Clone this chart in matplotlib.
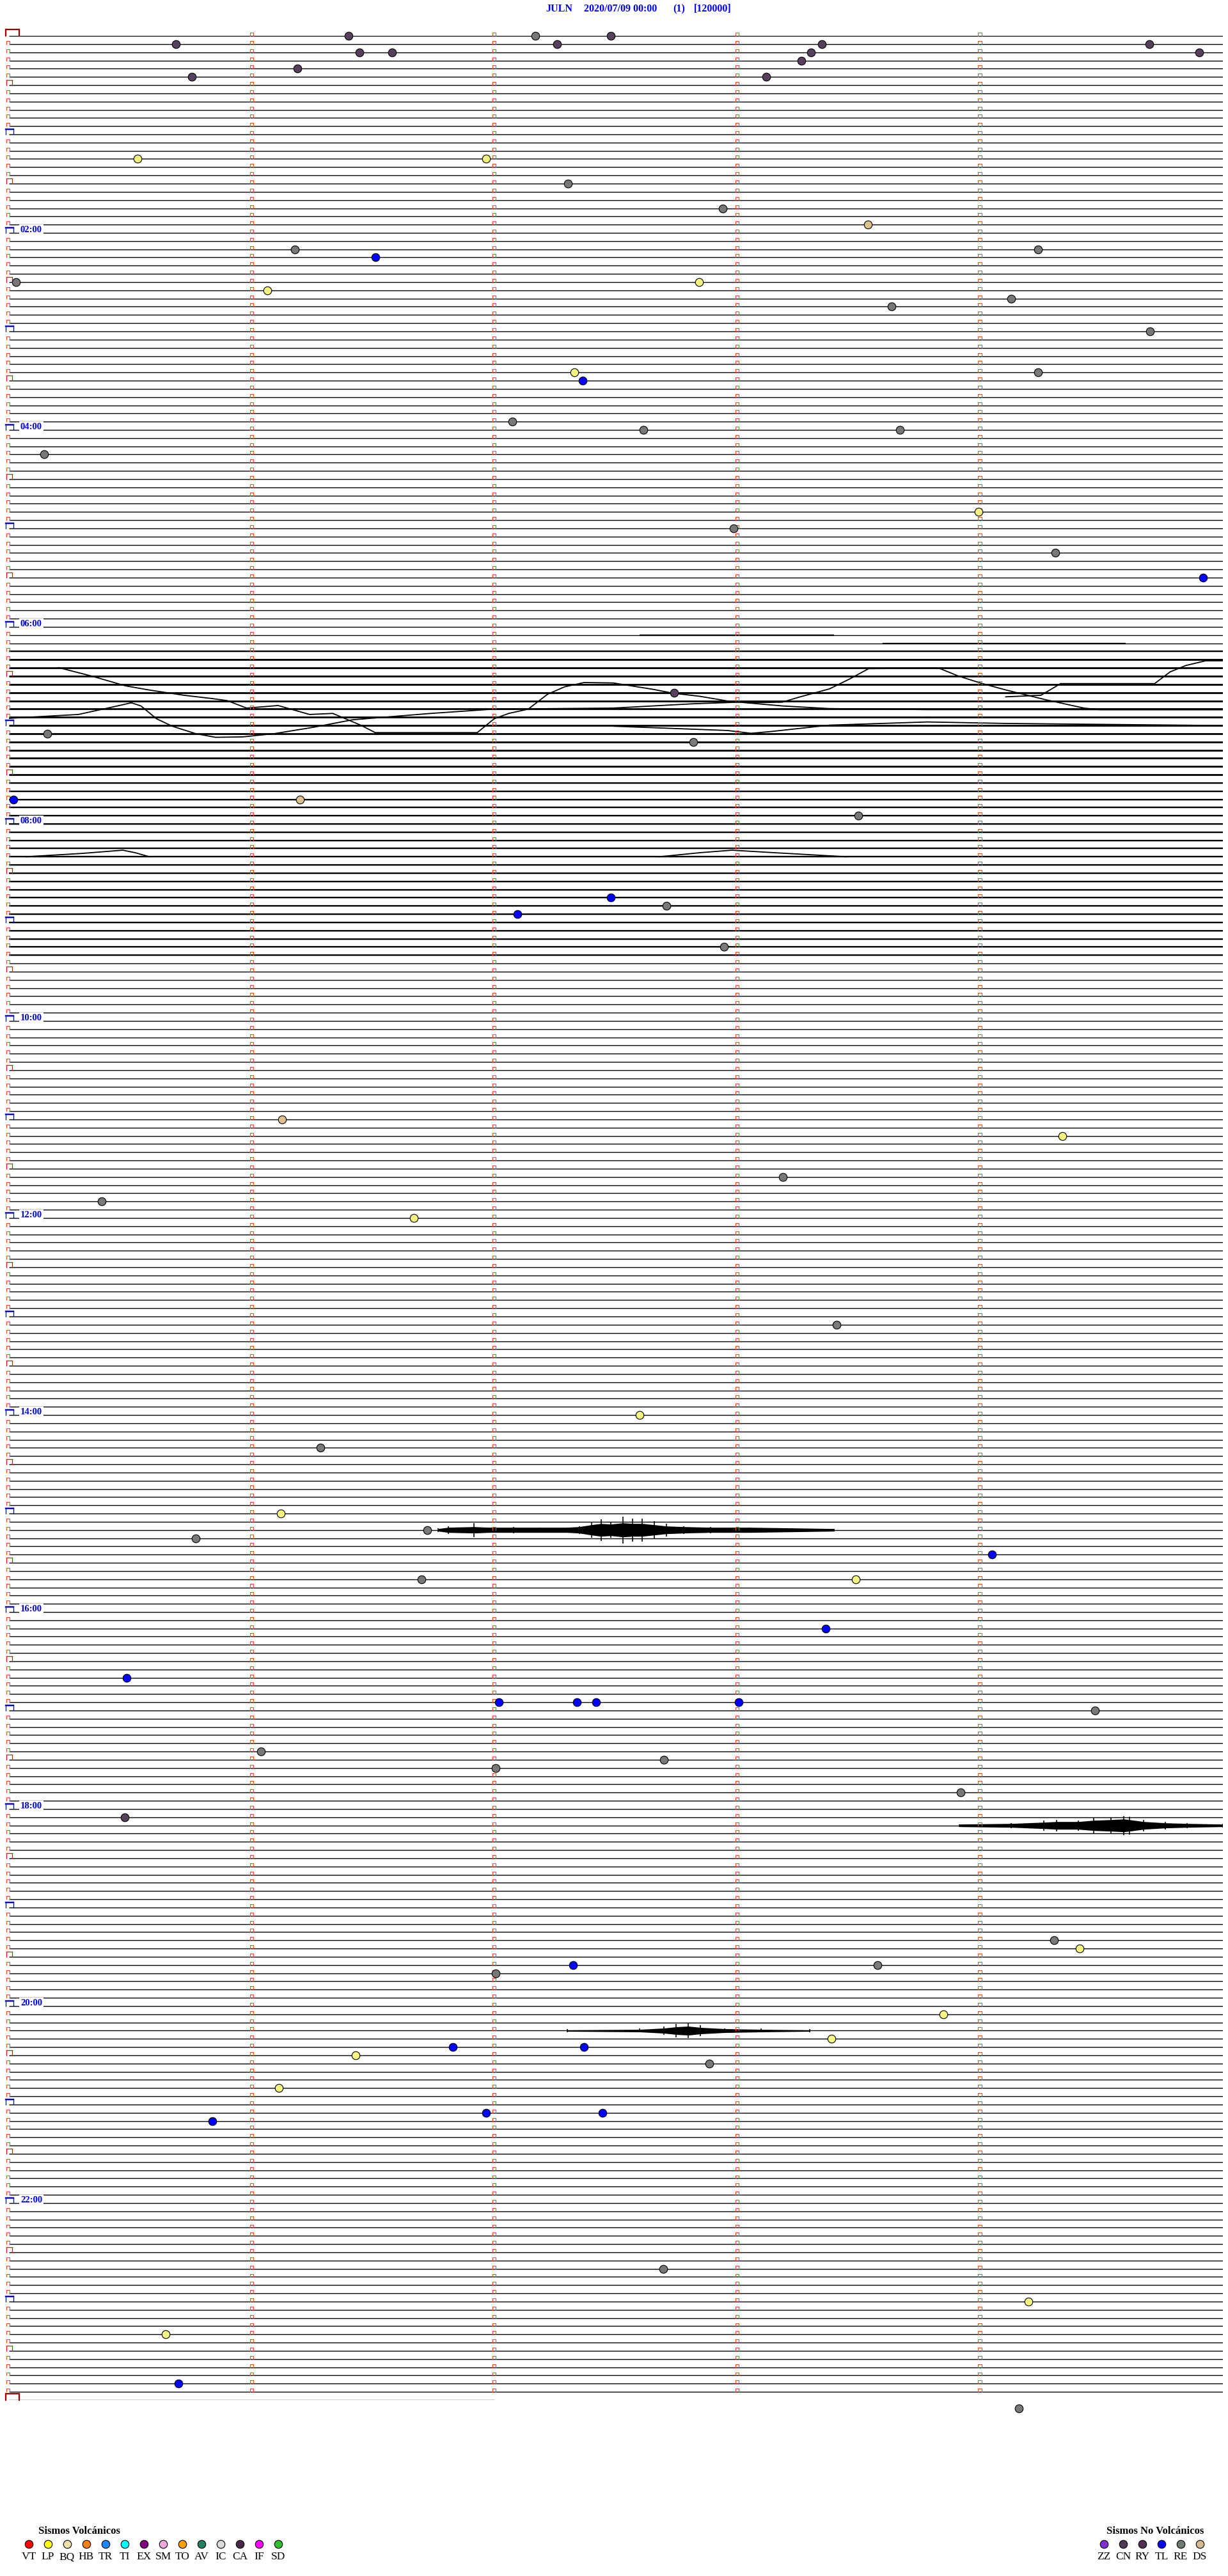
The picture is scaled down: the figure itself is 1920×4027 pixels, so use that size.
import matplotlib
matplotlib.use("Agg")
import matplotlib.pyplot as plt
from matplotlib.collections import LineCollection

# ---------------- data ----------------
N_ROWS = 288            # 5-minute rows for 24 h
ROW_MINUTES = 5
minute_ticks = [1, 2, 3, 4]
last_row_end = 2.0      # partial final row (minutes)
hour_label_rows = [24, 48, 72, 96, 120, 144, 168, 192, 216, 240, 264]
hour_labels = ["02:00", "04:00", "06:00", "08:00", "10:00", "12:00",
               "14:00", "16:00", "18:00", "20:00", "22:00"]

title_parts = ["JULN", "2020/07/09 00:00", "(1)", "[120000]"]

# events: row (5-min row index), minute within row, type
event_row = [1, 0, 2, 2, 4, 5, 0, 1, 0, 1, 2, 3, 5, 1, 2,
             15, 15, 18, 21, 23, 26, 27, 26, 30, 31, 30, 32, 33, 36, 41, 41, 42,
             47, 48, 48, 51, 60, 58, 63, 66, 80, 85, 86, 93, 93, 95,
             105, 107, 106, 111, 132, 134, 139, 142, 144, 157, 168, 172,
             180, 183, 182, 185, 188, 188, 194, 200, 203, 203, 203, 203, 204,
             209, 210, 211, 214, 217, 232, 233, 235, 235, 236, 241, 244, 245, 245,
             246, 247, 250, 253, 253, 254, 272, 276, 280, 286, 289]
event_min = [0.688, 1.40, 1.445, 1.58, 1.19, 0.755, 2.17, 2.26, 2.48, 3.35, 3.305, 3.265, 3.12, 4.698, 4.904,
             0.532, 1.966, 2.304, 2.94, 3.54, 1.18, 1.51, 4.24, 0.03, 1.066, 2.845, 4.13, 3.636, 4.70, 4.24, 2.33, 2.365,
             2.074, 2.615, 3.67, 0.146, 2.987, 3.995, 4.31, 4.92, 2.74, 0.16, 2.82, 0.02, 1.20, 3.50,
             2.48, 2.095, 2.71, 2.947, 1.127, 4.34, 3.19, 0.384, 1.669, 3.41, 2.60, 1.283,
             1.121, 0.77, 1.724, 4.05, 3.49, 1.70, 3.366, 0.485, 2.02, 2.34, 2.42, 3.007, 4.475,
             1.04, 2.70, 2.006, 3.92, 0.478, 4.305, 4.41, 3.58, 2.325, 2.006, 3.85, 3.39, 1.83, 2.37,
             1.43, 2.886, 1.113, 1.966, 2.446, 0.84, 2.696, 4.20, 0.647, 0.70, 4.16]
event_type = ["CN", "CN", "CN", "CN", "CN", "CN", "RE", "CN", "CN", "CN", "CN", "CN", "CN", "CN", "CN",
              "LP", "LP", "RE", "RE", "DS", "RE", "TL", "RE", "RE", "LP", "LP", "RE", "RE", "RE", "RE", "LP", "TL",
              "RE", "RE", "RE", "RE", "RE", "LP", "RE", "TL", "CN", "RE", "RE", "TL", "DS", "RE",
              "TL", "TL", "RE", "RE", "DS", "LP", "RE", "RE", "LP", "RE", "LP", "RE",
              "LP", "RE", "RE", "TL", "LP", "RE", "TL", "TL", "TL", "TL", "TL", "TL", "RE",
              "RE", "RE", "RE", "RE", "CN", "RE", "LP", "RE", "TL", "RE", "LP", "LP", "TL", "TL",
              "LP", "RE", "LP", "TL", "TL", "TL", "RE", "LP", "LP", "TL", "RE"]

volc_codes = ["VT", "LP", "BQ", "HB", "TR", "TI", "EX", "SM", "TO", "AV", "IC", "CA", "IF", "SD"]
volc_colors = ["#ff0000", "#ffff00", "#f2e2a8", "#ff8010", "#2088ff", "#00ffff", "#800080",
               "#f0a8e0", "#ffa000", "#208060", "#dcdcdc", "#4a2a4a", "#ff00ff", "#30c030"]
nonvolc_codes = ["ZZ", "CN", "RY", "TL", "RE", "DS"]
nonvolc_colors = ["#8030d0", "#503858", "#503050", "#0000ff", "#707a70", "#d4b890"]
plot_colors = {"CN": "#56405e", "RE": "#787878", "TL": "#0000ff", "LP": "#f4f480", "DS": "#dcc090"}

# long-period drift traces (minute, row)
drift_a_min = [0.206, 0.343, 0.48, 0.577, 0.722, 0.835, 0.90, 0.98, 1.11, 1.24, 1.335, 1.45, 1.51, 1.93,
               2.00, 2.06, 2.14, 2.22, 2.29, 2.37, 2.49, 2.655, 2.735, 2.848, 2.977, 3.058, 3.187, 3.252,
               3.381, 3.461, 3.542, 3.832, 3.913, 4.010, 4.107, 4.268, 4.429, 4.494, 5.0]
drift_a_row = [76.96, 78.0, 79.17, 79.68, 80.33, 80.72, 80.98, 81.89, 81.58, 82.67, 82.54, 83.97, 84.88, 84.88,
               83.19, 82.54, 82.02, 80.20, 79.30, 78.78, 78.83, 79.61, 80.07, 80.46, 81.11, 81.24, 81.17, 80.59,
               79.55, 78.39, 77.09, 77.03, 78.0, 78.9, 79.68, 80.85, 81.89, 82.08, 82.08]
drift_c_min = [0.0, 0.287, 0.448, 0.505, 0.545, 0.609, 0.674, 0.771, 0.852, 0.964, 1.093, 1.255, 1.416,
               1.577, 1.739, 1.997, 2.49, 2.816, 3.01, 3.187, 3.381, 3.784, 5.0]
drift_c_row = [83.14, 82.67, 81.63, 81.24, 81.63, 83.19, 84.10, 85.01, 85.45, 85.40, 85.01, 84.23, 83.32,
               82.93, 82.54, 82.02, 81.89, 81.37, 81.17, 81.63, 81.95, 82.08, 82.08]
drift_f_min = [4.107, 4.252, 4.333, 4.72, 4.784, 4.849, 4.93, 5.0]
drift_f_row = [80.52, 80.33, 78.91, 78.91, 77.48, 76.70, 76.13, 76.13]
drift_g_min = [2.493, 2.961, 3.058, 3.139, 3.381, 3.784, 4.107, 5.0]
drift_g_row = [84.1, 84.62, 84.96, 84.75, 83.97, 83.58, 83.76, 84.02]
# small humps around 08:20
hump1_min = [0.07, 0.30, 0.47, 0.52, 0.58]
hump1_row = [100.0, 99.6, 99.2, 99.5, 100.0]
hump2_min = [2.68, 2.85, 2.98, 3.15, 3.45]
hump2_row = [100.0, 99.5, 99.2, 99.5, 100.0]
rows_absent = [81]
row82_start = 2.0

# bursts: row, minute positions, body half-width and spike half-amplitude (px)
burst1_row = 182
burst1_min = [1.77, 1.81, 1.917, 1.975, 2.08, 2.19, 2.30, 2.35, 2.40, 2.44, 2.48, 2.53, 2.57, 2.61,
              2.66, 2.71, 2.78, 2.89, 3.05, 3.23, 3.40]
burst1_body = [2, 4, 5, 4, 4, 4, 4, 5, 8, 10, 9, 11, 10, 10, 8, 6, 5, 4, 4, 3, 2]
burst1_amp = [3, 6, 11, 4, 5, 4, 4, 6, 12, 17, 12, 21, 18, 18, 14, 10, 6, 5, 4, 3, 2]
burst2_row = 218
burst2_min = [3.916, 4.13, 4.264, 4.317, 4.406, 4.469, 4.54, 4.593, 4.617, 4.674, 4.764, 4.854, 5.0]
burst2_body = [2, 3, 5, 6, 6, 8, 9, 10, 9, 6, 4, 3, 2]
burst2_amp = [2, 4, 8, 9, 8, 12, 13, 15, 14, 9, 6, 4, 3]
burst3_row = 243
burst3_min = [2.3, 2.6, 2.7, 2.75, 2.8, 2.85, 2.95, 3.1, 3.3]
burst3_body = [1, 2, 4, 6, 7, 5, 3, 2, 1]
burst3_amp = [2, 3, 7, 10, 12, 8, 4, 3, 2]

# noisy (thickened) stretches: row, start minute, end minute, level
noise_row = [73, 74, 75] + list(range(76, 91)) + list(range(91, 113))
noise_m0 = [2.6, 3.6, 0.0] + [0.0] * 15 + [0.0] * 22
noise_m1 = [3.4, 4.6, 5.0] + [5.0] * 15 + [5.0] * 22
noise_lvl = [1, 1, 1] + [2] * 15 + [1] * 22

# ---------------- layout ----------------
W, H = 1920, 4027
X0, X1 = 13.5, 1911.5     # pixel span of a row
Y0, Y1 = 56.0, 3752.0     # pixel of row 0 and row 288
fig = plt.figure(figsize=(W / 100, H / 100), dpi=100)
fig.patch.set_facecolor("white")
ax = fig.add_axes([X0 / W, 1 - Y1 / H, (X1 - X0) / W, (Y1 - Y0) / H])
ax.set_xlim(0, ROW_MINUTES)
ax.set_ylim(N_ROWS, 0)
ax.axis("off")
ppm = (X1 - X0) / ROW_MINUTES
ppr = (Y1 - Y0) / N_ROWS
PT = 0.72  # points per pixel

# baselines
segs = []
for r in range(N_ROWS):
    if r in rows_absent:
        continue
    start = row82_start if r == 82 else 0
    segs.append([(start, r), (ROW_MINUTES, r)])
segs.append([(0, N_ROWS), (last_row_end, N_ROWS)])
ax.add_collection(LineCollection(segs, colors="black", linewidths=1.4 * PT, zorder=2))

# noise thickening
lvl_px = {1: 2.2, 2: 2.8, 3: 4.5}
for r, a, b, lv in zip(noise_row, noise_m0, noise_m1, noise_lvl):
    ax.plot([a, b], [r, r], color="black", lw=lvl_px[lv] * PT, solid_capstyle="butt", zorder=2)

# drift traces
for xs, ys in [(drift_a_min, drift_a_row), (drift_c_min, drift_c_row),
               (drift_f_min, drift_f_row), (drift_g_min, drift_g_row),
               (hump1_min, hump1_row), (hump2_min, hump2_row)]:
    ax.plot(xs, ys, color="black", lw=1.8 * PT, zorder=2)

# bursts: envelope body + spikes at read points
for br, bm, bb, ba in [(burst1_row, burst1_min, burst1_body, burst1_amp),
                       (burst2_row, burst2_min, burst2_body, burst2_amp),
                       (burst3_row, burst3_min, burst3_body, burst3_amp)]:
    ax.fill_between(bm, [br - b / ppr for b in bb], [br + b / ppr for b in bb],
                    color="black", lw=0, zorder=2)
    ax.vlines(bm, [br - a / ppr for a in ba], [br + a / ppr for a in ba],
              colors="black", lw=1.6 * PT, zorder=2)


def cap_box(m, r, left, right, h, color, lw, top_lw=None):
    xl, xr = m + left / ppm, m + right / ppm
    yt = r - h / ppr
    ax.plot([xl, xl], [r, yt], color=color, lw=lw * PT, zorder=4, clip_on=False,
            solid_capstyle="projecting")
    ax.plot([xr, xr], [r, yt], color=color, lw=lw * PT, zorder=4, clip_on=False,
            solid_capstyle="projecting")
    ax.plot([xl, xr], [yt, yt], color=color, lw=(top_lw or lw) * PT, zorder=4, clip_on=False,
            solid_capstyle="projecting")


ORANGE = "#ff4a10"
for r in range(N_ROWS + 1):
    if r % 12 == 0:
        if r == 0 or r == N_ROWS:
            cap_box(0, r, -4.5, 16.5, 10, "#990000", 2.2)
        else:
            cap_box(0, r, -4.5, 7.5, 8, "#0000e0", 1.3, 2.4)
    elif r % 6 == 0:
        cap_box(0, r, -3.5, 5.5, 8, "#ff0000", 1.2)
    else:
        cap_box(0, r, -3.2, 1.8, 5, ORANGE, 1.0)
    if r < N_ROWS:
        for mt in minute_ticks:
            cap_box(mt, r, -2.6, 2.6, 5, ORANGE, 1.0)

for r, lab in zip(hour_label_rows, hour_labels):
    ax.text(18.5 / ppm, r - 0.6 / ppr, lab, color="#0000ff", fontsize=10.5, fontweight="bold",
            family="Liberation Serif", ha="left", va="baseline", zorder=5,
            bbox=dict(facecolor="white", edgecolor="none", pad=1.6))

# events
for r, m, t in zip(event_row, event_min, event_type):
    ax.plot(m, r, "o", ms=12.5 * PT, mfc=plot_colors[t], mec="black", mew=0.8, zorder=6, clip_on=False)

# ---------------- title & legends (figure pixel space) ----------------
lax = fig.add_axes([0, 0, 1, 1], zorder=-1)
lax.set_xlim(0, W)
lax.set_ylim(H, 0)
lax.axis("off")
for txt, x in zip(title_parts, [853, 913, 1052, 1085]):
    lax.text(x, 14, txt, color="#0000ff", fontsize=11.5, fontweight="bold",
             family="Liberation Serif", ha="left", va="center")

lax.text(124, 3957, "Sismos Volcánicos", fontsize=12, fontweight="bold",
         family="Liberation Serif", ha="center", va="center")
for i, (c, col) in enumerate(zip(volc_codes, volc_colors)):
    x = 45 + 30 * i
    lax.plot(x, 3977, "o", ms=12.5 * PT, mfc=col, mec="black", mew=0.8)
    lax.text(x, 3997, c, fontsize=12.5, family="Liberation Serif", ha="center", va="center")

lax.text(1806, 3957, "Sismos No Volcánicos", fontsize=12, fontweight="bold",
         family="Liberation Serif", ha="center", va="center")
for i, (c, col) in enumerate(zip(nonvolc_codes, nonvolc_colors)):
    x = 1726 + 30 * i
    lax.plot(x, 3977, "o", ms=12.5 * PT, mfc=col, mec="black", mew=0.8)
    lax.text(x, 3997, c, fontsize=12.5, family="Liberation Serif", ha="center", va="center")

fig.savefig("out.png", dpi=100, facecolor="white")
